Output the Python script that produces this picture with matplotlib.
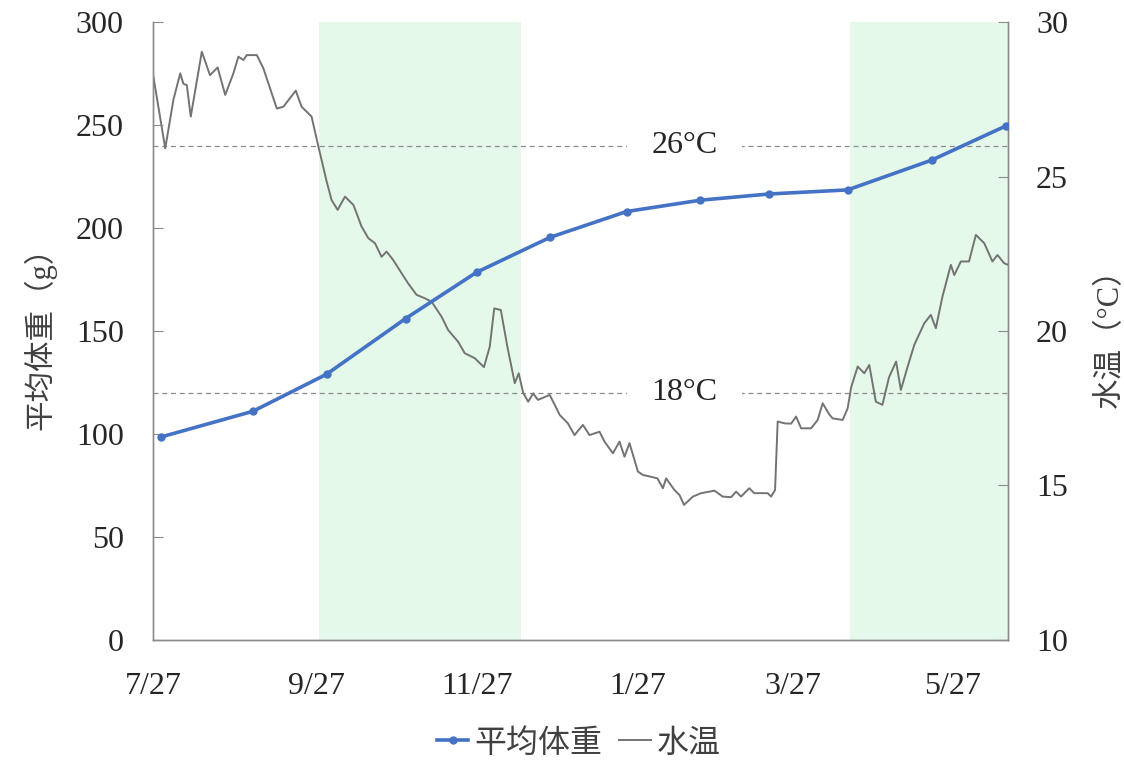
import numpy as np
import pandas as pd
import matplotlib
matplotlib.use("Agg")
import matplotlib.pyplot as plt
import matplotlib.dates as mdates
from matplotlib.ticker import FuncFormatter

plt.rcParams["font.family"] = ["Liberation Serif", "Noto Sans CJK SC"]

start = pd.Timestamp("2020-07-27")

# average body weight (g), sampling dates
weight_dates = ["2020-07-30", "2020-09-03", "2020-10-01", "2020-10-31", "2020-11-27",
                "2020-12-25", "2021-01-23", "2021-02-20", "2021-03-18", "2021-04-17",
                "2021-05-19", "2021-06-16"]
weight_g = [98.5, 111, 129, 156, 178.5, 195.5, 208, 213.5, 216.5, 218.5, 233, 249.5]

# water temperature (deg C), days after 7/27
temp_day = [0, 4.7, 7.8, 10.4, 11.6, 12.9, 14.4, 18.6, 21.7, 24.6, 27.5, 30.6, 32.5, 34.4,
            35.7, 39.5, 42, 47.1, 49.6, 54.3, 56.5, 60.3, 62.9, 66, 67.9, 70.2, 73, 76.2,
            79.3, 81.9, 84.4, 86.9, 88.8, 91.3, 94.5, 97, 100.2, 103.3, 105.9, 109.7, 112.2,
            116, 118.5, 122.3, 125.8, 128, 129.7, 132.2, 134.7, 137.5, 139, 140.7, 142.6,
            144.5, 146.3, 150.8, 154.6, 157.7, 160.2, 163.4, 165.9, 169.7, 171.6, 174.8,
            177.3, 179.2, 181.1, 184.3, 186.2, 189.3, 191.7, 193.8, 195, 198.2, 200.1, 201.8,
            205.2, 208.3, 213.4, 216.5, 219.7, 221.6, 223.5, 226.6, 228.5, 233.6, 234.9,
            236.4, 237.4, 240, 242.5, 244.4, 246.3, 248.8, 250.1, 252.6, 254.5, 257, 258.3,
            262.1, 264, 265.3, 267.8, 270.3, 272.2, 274.7, 277.2, 279.7, 282.4, 284.2,
            286.8, 289.3, 293.1, 295.6, 297.5, 300, 303.2, 304.5, 307, 310.1, 312.7, 315.9,
            319, 320.9, 323.5, 325]
temp_c = [28.34, 25.91, 27.48, 28.34, 28.0, 27.96, 26.94, 29.04, 28.28, 28.53, 27.64, 28.34,
          28.88, 28.77, 28.93, 28.93, 28.5, 27.2, 27.26, 27.78, 27.26, 26.94, 25.97, 24.85,
          24.24, 23.92, 24.35, 24.08, 23.38, 23.0, 22.84, 22.4, 22.57, 22.3, 21.87, 21.54,
          21.17, 21.06, 20.95, 20.46, 20.03, 19.65, 19.28, 19.12, 18.83, 19.49, 20.73, 20.68,
          19.49, 18.31, 18.63, 18.0, 17.71, 17.98, 17.77, 17.93, 17.28, 17.01, 16.63, 16.96,
          16.63, 16.74, 16.42, 16.04, 16.42, 15.93, 16.37, 15.45, 15.34, 15.28, 15.23, 14.91,
          15.23, 14.85, 14.69, 14.37, 14.64, 14.75, 14.83, 14.64, 14.62, 14.8, 14.64, 14.91,
          14.75, 14.75, 14.64, 14.85, 17.07, 17.01, 17.0, 17.23, 16.85, 16.85, 16.85, 17.12,
          17.66, 17.3, 17.17, 17.12, 17.5, 18.17, 18.85, 18.63, 18.9, 17.71, 17.61, 18.5,
          19.01, 18.09, 18.85, 19.55, 20.25, 20.52, 20.09, 21.11, 22.14, 21.81, 22.25, 22.25,
          23.11, 22.84, 22.25, 22.46, 22.19, 22.14]

# shaded periods
shade_ranges = [("2020-09-28", "2020-12-14"), ("2021-04-18", "2021-06-17")]
ref_temps = [26, 18]
xtick_dates = ["2020-07-27", "2020-09-27", "2020-11-27", "2021-01-27", "2021-03-27", "2021-05-27"]

temp_dates = start + pd.to_timedelta(temp_day, unit="D")
weight_dates = pd.to_datetime(weight_dates)

fig = plt.figure(figsize=(11.24, 7.6), dpi=100)
ax = fig.add_axes([0.136, 0.158, 0.761, 0.813])
ax2 = ax.twinx()

# temperature axes goes behind, weight axes drawn on top with a clear patch
ax.set_zorder(ax2.get_zorder() + 1)
ax.patch.set_visible(False)

for a, b in shade_ranges:
    ax2.axvspan(pd.Timestamp(a), pd.Timestamp(b), color="#e5f9eb", lw=0, zorder=0)

for t in ref_temps:
    ax2.axhline(t, color="#8c8c8c", lw=0.9, ls=(0, (4, 3)), zorder=1)
    ax2.text(pd.Timestamp("2021-02-14"), t, f"{t}°C", fontsize=23, ha="center", va="center",
             color="#262626", zorder=2,
             bbox=dict(boxstyle="square,pad=0.75", fc="white", ec="none"))

temp_line, = ax2.plot(temp_dates, temp_c, color="#737373", lw=1.4, zorder=3)
w_line, = ax.plot(weight_dates, weight_g, color="#4472c4", lw=2.6, marker="o", ms=5,
                  zorder=4)

ax.set_xlim(start, start + pd.Timedelta(days=325))
ax.set_ylim(0, 300)
ax2.set_ylim(10, 30)
ax.set_yticks(np.arange(0, 301, 50))
ax2.set_yticks(np.arange(10, 31, 5))
ax.set_xticks(pd.to_datetime(xtick_dates))
ax.xaxis.set_major_formatter(FuncFormatter(
    lambda v, p: f"{mdates.num2date(v).month}/{mdates.num2date(v).day}"))

for a in (ax, ax2):
    for s in a.spines.values():
        s.set_color("#8c8c8c")
        s.set_linewidth(1.0)
    a.spines["top"].set_visible(False)
ax.tick_params(axis="x", length=0, pad=23, labelsize=23, colors="#262626")
ax.tick_params(axis="y", direction="in", length=7, color="#8c8c8c", pad=21, labelsize=23,
               labelcolor="#262626")
ax2.tick_params(axis="y", direction="in", length=7, color="#8c8c8c", pad=20, labelsize=23,
                labelcolor="#262626")

ax.set_ylabel("平均体重（g）", fontsize=22, color="#404040", labelpad=14)
ax2.set_ylabel("水温（°C）", fontsize=22, color="#404040", labelpad=20)

fig.legend([w_line, temp_line], ["平均体重", "水温"], loc="lower center",
           bbox_to_anchor=(0.515, -0.036), ncol=2, frameon=False, fontsize=23,
           handlelength=1.0, handletextpad=0.2, columnspacing=0.5, labelcolor="#404040")

fig.savefig("out.png", dpi=100, facecolor="white")
